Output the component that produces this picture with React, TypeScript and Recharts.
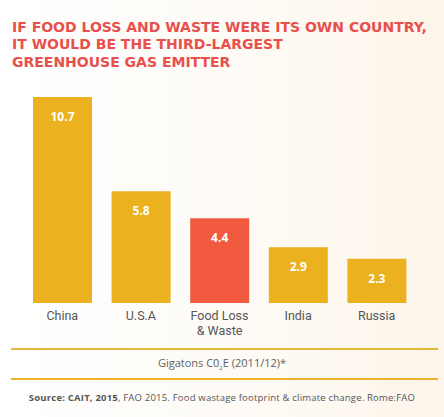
import React from 'react';
import { BarChart, Bar, XAxis, YAxis, Cell, LabelList } from 'recharts';

const categories = ['China', 'U.S.A', 'Food Loss\n& Waste', 'India', 'Russia'];
const emissions = [10.7, 5.8, 4.4, 2.9, 2.3];
const highlight = [false, false, true, false, false];

const titleLines = [
  'IF FOOD LOSS AND WASTE WERE ITS OWN COUNTRY,',
  'IT WOULD BE THE THIRD-LARGEST',
  'GREENHOUSE GAS EMITTER',
];

const GOLD = '#ebb11f';
const RED = '#f15a3e';
const TITLE_RED = '#e8504c';
const GREY = '#555';
const FONT = '"Open Sans", sans-serif';
const TICK_FONT = 'Roboto, sans-serif';
const TITLE_FONT = '"DejaVu Sans", sans-serif';

const data = categories.map((name, i) => ({ name, value: emissions[i], hi: highlight[i] }));

// multi-line category tick, one <text> per line
const CategoryTick = (props: any) => {
  const { x, y, payload } = props;
  const lines = String(payload.value).split('\n');
  return (
    <g>
      {lines.map((l, i) => (
        <text key={i} x={x} y={y + 9 + i * 14.5} textAnchor="middle" fill={GREY} fontSize={12.5} fontFamily={TICK_FONT}>
          {l}
        </text>
      ))}
    </g>
  );
};

const ValueLabel = (props: any) => {
  const { x, y, width, value } = props;
  return (
    <text x={x + width / 2} y={y + 24} textAnchor="middle" fill="#fff" fontSize={12} fontWeight={700} fontFamily={FONT}>
      {value}
    </text>
  );
};

export default function App() {
  return (
    <div
      style={{
        position: 'absolute',
        left: 0,
        top: 0,
        width: 444,
        height: 417,
        background: 'linear-gradient(90deg, #ffffff 0%, #fefbf6 55%, #fdf5ea 100%)',
        fontFamily: FONT,
        overflow: 'hidden',
      }}
    >
      <div style={{ position: 'absolute', left: 12, top: 18.5 }}>
        {titleLines.map((t, i) => (
          <div
            key={i}
            style={{
              color: TITLE_RED,
              fontFamily: TITLE_FONT,
              fontSize: 14,
              fontWeight: 700,
              lineHeight: '17.5px',
              whiteSpace: 'nowrap',
            }}
          >
            {t}
          </div>
        ))}
      </div>

      <div style={{ position: 'absolute', left: 0, top: 0 }}>
        <BarChart width={444} height={417} data={data} margin={{ top: 97, right: 28, bottom: 84, left: 23 }}>
          <XAxis dataKey="name" axisLine={false} tickLine={false} height={30} interval={0} tick={<CategoryTick />} />
          <YAxis hide domain={[0, 10.7]} />
          <Bar dataKey="value" barSize={59} isAnimationActive={false}>
            {data.map((d, i) => (
              <Cell key={i} fill={d.hi ? RED : GOLD} />
            ))}
            <LabelList dataKey="value" content={<ValueLabel />} />
          </Bar>
        </BarChart>
      </div>

      <div style={{ position: 'absolute', left: 11, width: 427, top: 348, height: 2, background: '#e9b73a' }} />
      <div
        style={{
          position: 'absolute',
          left: 0,
          width: 444,
          top: 355,
          textAlign: 'center',
          fontSize: 11,
          color: '#606060',
        }}
      >
        Gigatons C0<sub style={{ fontSize: 6 }}>2</sub>E (2011/12)*
      </div>
      <div style={{ position: 'absolute', left: 11, width: 427, top: 378, height: 2, background: '#edb526' }} />
      <div
        style={{
          position: 'absolute',
          left: 0,
          width: 444,
          top: 391,
          textAlign: 'center',
          fontSize: 9.5,
          letterSpacing: 0.2,
          color: '#555',
          whiteSpace: 'nowrap',
        }}
      >
        <span style={{ fontWeight: 700 }}>Source: CAIT, 2015</span>, FAO 2015. Food wastage footprint &amp; climate change. Rome:FAO
      </div>
    </div>
  );
}
